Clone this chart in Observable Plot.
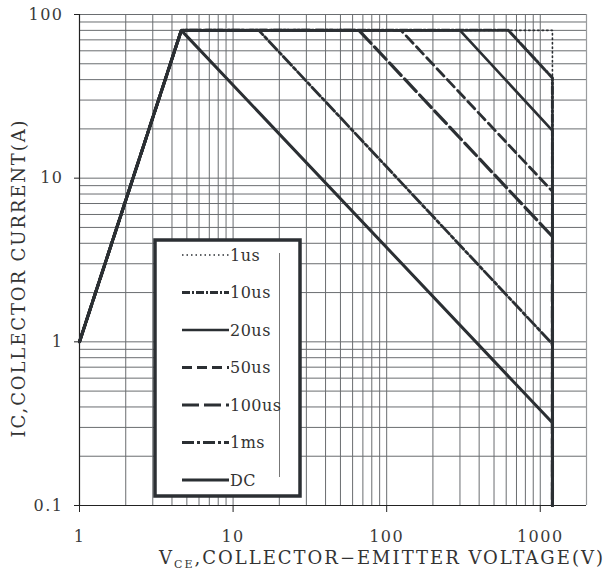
<!DOCTYPE html>
<html>
<head>
<meta charset="utf-8">
<script src="https://cdn.jsdelivr.net/npm/d3@7"></script>
<script src="https://cdn.jsdelivr.net/npm/@observablehq/plot@0.6"></script>
<style>
  html, body { margin: 0; padding: 0; background: #fff; }
  #chart { position: relative; width: 612px; height: 577px; }
  #chart svg g[aria-label$="tick label"] text { letter-spacing: 1.5px; }
</style>
</head>
<body>
<div id="chart"></div>
<script>
// Safe operating area: collector current vs collector-emitter voltage
const pulses = ["1us", "10us", "20us", "50us", "100us", "1ms", "DC"];
// voltage where each pulse limit leaves the 80 A current limit
const kneeV = [1200, 620, 300, 124, 66, 14.7, 4.6];
// current reached at the voltage limit for each pulse width
const endI = [80, 41, 19.5, 8.3, 4.4, 0.97, 0.32];
// on-resistance ramp shared by all curves
const rampV = [1, 4.6];
const rampI = [1, 80];
const iMax = 80;
const vMax = 1200;
const iFloor = 0.1;

const xTicks = [1, 10, 100, 1000];
const yTicks = [0.1, 1, 10, 100];
const multiples = [1, 2, 3, 4, 5, 6, 7, 8, 9];
const xGrid = [1, 10, 100, 1000].flatMap(d => multiples.map(m => m * d)).filter(v => v <= 2000);
const yGrid = [0.1, 1, 10].flatMap(d => multiples.map(m => m * d)).concat([100]);

// line style for each pulse width
const styles = {
  "1us":   {strokeWidth: 1.6, strokeDasharray: "1.5,3"},
  "10us":  {strokeWidth: 3,   strokeDasharray: "8,2,2,2"},
  "20us":  {strokeWidth: 2.6, strokeDasharray: null},
  "50us":  {strokeWidth: 2.8, strokeDasharray: "10,5"},
  "100us": {strokeWidth: 3.2, strokeDasharray: "17,5"},
  "1ms":   {strokeWidth: 2.8, strokeDasharray: "12,3,3,3"},
  "DC":    {strokeWidth: 3,   strokeDasharray: null}
};
const ink = "#2b2f33";

function curve(i) {
  return [
    {v: rampV[0], i: rampI[0]},
    {v: rampV[1], i: rampI[1]},
    {v: kneeV[i], i: iMax},
    {v: vMax, i: endI[i]},
    {v: vMax, i: iFloor}
  ];
}

const curveMarks = pulses.map((p, k) =>
  Plot.line(curve(k), {x: "v", y: "i", stroke: ink, strokeLinejoin: "miter",
    strokeWidth: styles[p].strokeWidth, strokeDasharray: styles[p].strokeDasharray})
);

const chart = Plot.plot({
  width: 612,
  height: 577,
  marginLeft: 79,
  marginRight: 26,
  marginTop: 14,
  marginBottom: 72,
  style: {fontFamily: "DejaVu Serif", fontSize: "16px", color: "#3a3a3a", background: "#fff"},
  x: {type: "log", domain: [1, 2000]},
  y: {type: "log", domain: [0.1, 100]},
  marks: [
    Plot.ruleX(xGrid, {stroke: "#6a6d70", strokeWidth: 1}),
    Plot.ruleY(yGrid, {stroke: "#6a6d70", strokeWidth: 1}),
    Plot.ruleX([2000], {stroke: "#9a9c9e", strokeWidth: 1.2}),
    Plot.ruleX([1], {stroke: "#222", strokeWidth: 1.2}),
    Plot.ruleY([0.1], {stroke: "#222", strokeWidth: 1.2}),
    Plot.axisX({ticks: xTicks, tickSize: 7, tickPadding: 18, tickFormat: d => String(d), label: null, stroke: "#222"}),
    Plot.axisY({ticks: yTicks, tickSize: 5, tickPadding: 11, tickFormat: d => String(d), label: null, stroke: "#222"}),
    ...curveMarks
  ]
});

document.getElementById("chart").appendChild(chart);

// axis titles and legend box
const svg = d3.select(chart);

const xt = svg.append("text")
  .attr("x", 382).attr("y", 564)
  .attr("text-anchor", "middle")
  .attr("fill", "#333")
  .style("font-family", "DejaVu Serif").style("font-size", "18px")
  .style("letter-spacing", "2px");
xt.append("tspan").text("V");
xt.append("tspan").attr("dy", 4).style("font-size", "11px").text("CE");
xt.append("tspan").attr("dy", -4).text(",COLLECTOR\u2212EMITTER VOLTAGE(V)");

svg.append("text")
  .attr("transform", "translate(25,278) rotate(-90)")
  .attr("text-anchor", "middle")
  .attr("fill", "#333")
  .style("font-family", "DejaVu Serif").style("font-size", "18px")
  .style("letter-spacing", "1.9px")
  .text("IC,COLLECTOR CURRENT(A)");

const lg = svg.append("g");
lg.append("rect")
  .attr("x", 155).attr("y", 240).attr("width", 145).attr("height", 256)
  .attr("fill", "#fff").attr("stroke", ink).attr("stroke-width", 3.5);
lg.append("line")
  .attr("x1", 279.5).attr("x2", 279.5).attr("y1", 253).attr("y2", 477)
  .attr("stroke", "#777").attr("stroke-width", 1);
pulses.forEach((p, k) => {
  const y = 255 + k * 37.5;
  lg.append("line")
    .attr("x1", 182).attr("x2", 229).attr("y1", y).attr("y2", y)
    .attr("stroke", ink).attr("stroke-width", styles[p].strokeWidth)
    .attr("stroke-dasharray", styles[p].strokeDasharray);
  lg.append("text")
    .attr("x", 230).attr("y", y).attr("dy", "0.35em")
    .attr("text-anchor", "start")
    .attr("fill", "#333")
    .style("font-family", "DejaVu Serif").style("font-size", "16px")
    .style("letter-spacing", "0.5px")
    .text(p);
});
</script>
</body>
</html>
